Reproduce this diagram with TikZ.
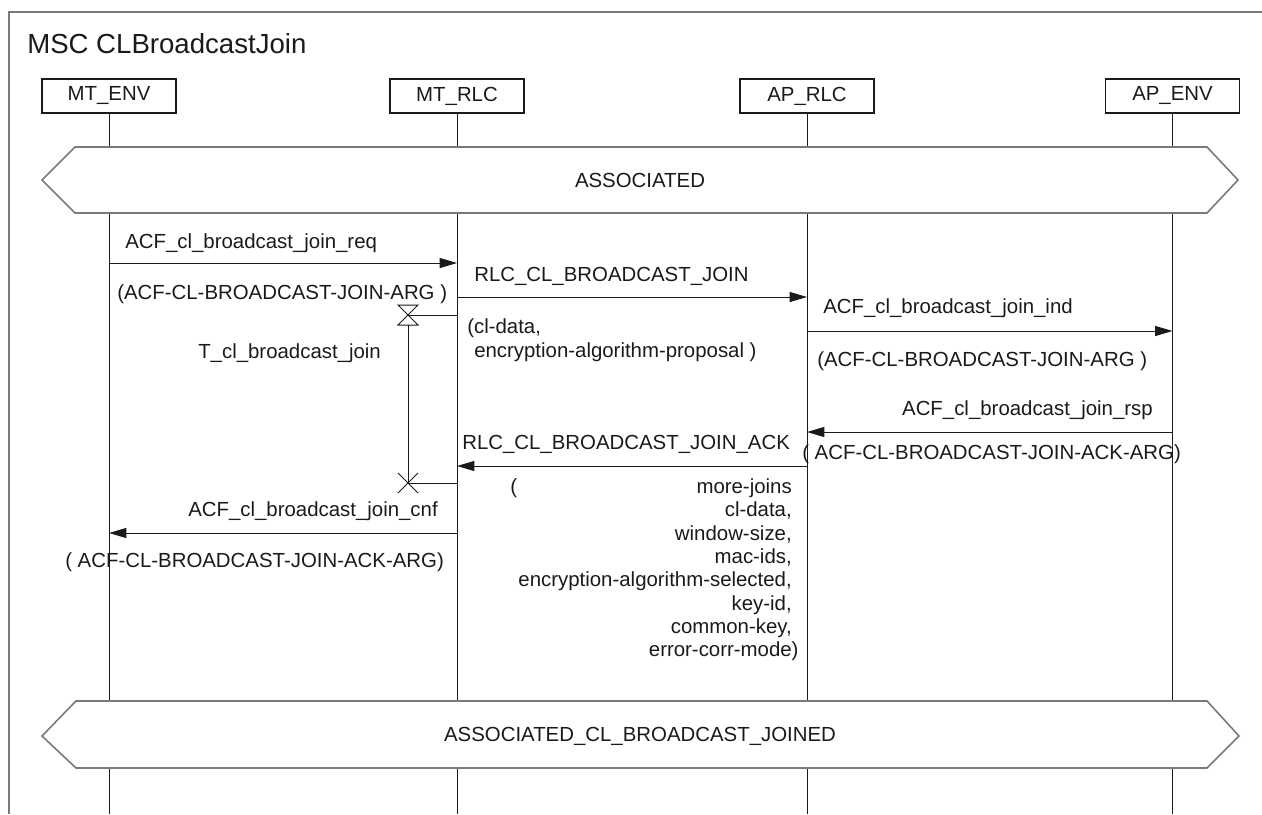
\documentclass[tikz,border=0pt]{standalone}
\usepackage{fontspec}
\setmainfont{Liberation Sans}
\usetikzlibrary{arrows.meta,positioning,calc}
\definecolor{ink}{HTML}{1A1A1A}
\definecolor{rule}{HTML}{7A7A7A}
\tikzset{
  lbl/.style={font=\fontsize{15.3}{18}\selectfont, text=ink, inner sep=0pt},
  head/.style={lbl, draw=ink, line width=0.8pt, minimum width=100.5pt, minimum height=25.5pt},
  life/.style={draw=ink, line width=0.75pt},
  msg/.style={life, -{Triangle[length=13pt,width=7.5pt]}},
  cond/.style={draw=rule, fill=white, line width=1.2pt},
  frame/.style={draw=rule, line width=1.2pt},
}
\begin{document}
\begin{tikzpicture}[x=0.75pt,y=-0.75pt]
  \useasboundingbox (0,0) rectangle (1262,814);
  \draw[frame] (9,814) -- (9,12) -- (1262,12);
  \node[lbl, font=\fontsize{20.7}{24}\selectfont, anchor=base west] (title) at (27,53) {MSC CLBroadcastJoin};

  % instances
  \node[head] (mtenv) at (109,96) {MT\_ENV};
  \node[head] (mtrlc) at (457,96) {MT\_RLC};
  \node[head] (aprlc) at (807,96) {AP\_RLC};
  \node[head] (apenv) at (1172.5,96) {AP\_ENV};
  \foreach \p in {mtenv,mtrlc,aprlc,apenv}
    \draw[life] (\p.south) -- (\p |- 0,814);

  % conditions
  \draw[cond] (42,180) -- (75,147) -- (1207,147) -- (1238,180) -- (1207,213) -- (75,213) -- cycle;
  \node[lbl] (assoc) at (640,180) {ASSOCIATED};
  \draw[cond] (42,736) -- (76,701) -- (1207,701) -- (1239,736) -- (1207,768) -- (76,768) -- cycle;
  \node[lbl] (joined) at (640,736) {ASSOCIATED\_CL\_BROADCAST\_JOINED};

  % messages
  \draw[msg] (mtenv |- 0,263) -- (mtrlc |- 0,263);
  \node[lbl, anchor=base west] (reqlbl) at (125,248) {ACF\_cl\_broadcast\_join\_req};
  \node[lbl, anchor=base west] (reqarg) at (117,299) {(ACF-CL-BROADCAST-JOIN-ARG )};

  \draw[msg] (mtrlc |- 0,297) -- (aprlc |- 0,297);
  \node[lbl, anchor=base west] (joinlbl) at (474,281) {RLC\_CL\_BROADCAST\_JOIN};
  \node[lbl, anchor=base west] (joinarg1) at (467,333) {(cl-data,};
  \node[lbl, anchor=base west] (joinarg2) at (474,357) {encryption-algorithm-proposal )};

  \draw[msg] (aprlc |- 0,331) -- (apenv |- 0,331);
  \node[lbl, anchor=base west] (indlbl) at (823,313) {ACF\_cl\_broadcast\_join\_ind};
  \node[lbl, anchor=base west] (indarg) at (817,366) {(ACF-CL-BROADCAST-JOIN-ARG )};

  \draw[msg] (apenv |- 0,432) -- (aprlc |- 0,432);
  \node[lbl, anchor=base east] (rsplbl) at (1153,415) {ACF\_cl\_broadcast\_join\_rsp};
  \node[lbl, anchor=base west] (rsparg) at (802,459) {( ACF-CL-BROADCAST-JOIN-ACK-ARG)};

  \draw[msg] (aprlc |- 0,466) -- (mtrlc |- 0,466);
  \node[lbl, anchor=base west] (acklbl) at (462,449) {RLC\_CL\_BROADCAST\_JOIN\_ACK};
  \node[lbl, anchor=base west] (ackopen) at (510,493) {(};
  \foreach \t/\yy [count=\i] in {more-joins/493, cl-data{,}/516.5, window-size{,}/540,
      mac-ids{,}/563, encryption-algorithm-selected{,}/586.5, key-id{,}/610,
      common-key{,}/633, error-corr-mode\rlap{)}/656.5}
    \node[lbl, anchor=base east] (ack-\i) at (792,\yy) {\t};

  \draw[msg] (mtrlc |- 0,533) -- (mtenv |- 0,533);
  \node[lbl, anchor=base east] (cnflbl) at (438,516) {ACF\_cl\_broadcast\_join\_cnf};
  \node[lbl, anchor=base west] (cnfarg) at (65,567) {( ACF-CL-BROADCAST-JOIN-ACK-ARG)};

  % timer
  \coordinate (tset) at (408,315);
  \coordinate (tout) at (408,483);
  \draw[life] (mtrlc |- tset) -- (tset);
  \draw[life, shift={(tset)}] (-10,-10) -- (10,-10) -- (-10,10) -- (10,10) -- cycle;
  \draw[life] ($(tset)+(0,10)$) -- (tout);
  \draw[life, shift={(tout)}] (-10,-10) -- (10,10) (-10,10) -- (10,-10);
  \draw[life] (tout) -- (mtrlc |- tout);
  \node[lbl, anchor=base west] (timerlbl) at (198,358) {T\_cl\_broadcast\_join};
\end{tikzpicture}
\end{document}
